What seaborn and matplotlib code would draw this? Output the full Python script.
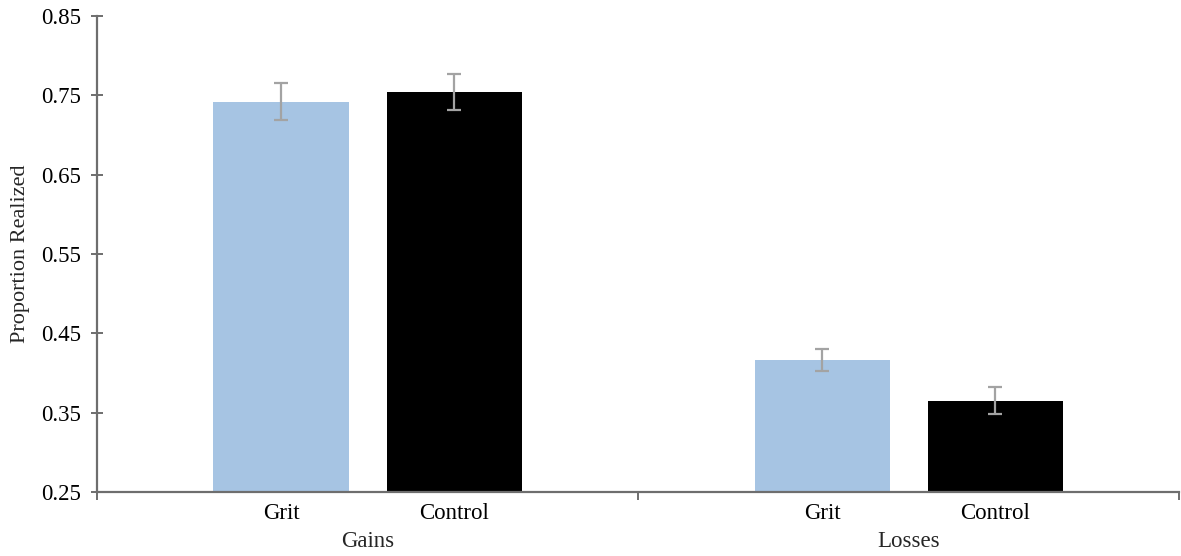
import matplotlib
matplotlib.use("Agg")
import matplotlib.pyplot as plt
import matplotlib.transforms as mtransforms
import seaborn as sns
import pandas as pd

# ------------------------------------------------------------------
# Data
# ------------------------------------------------------------------

groups = ["Gains", "Gains", "Losses", "Losses"]
conditions = ["Grit", "Control", "Grit", "Control"]
proportions = [0.742, 0.754, 0.416, 0.365]
errors = [0.023, 0.023, 0.014, 0.017]

group_order = ["Gains", "Losses"]
condition_order = ["Grit", "Control"]
y_ticks = [0.25, 0.35, 0.45, 0.55, 0.65, 0.75, 0.85]

df = pd.DataFrame({
    "group": groups,
    "condition": conditions,
    "proportion": proportions,
    "error": errors,
})

# ------------------------------------------------------------------
# Style
# ------------------------------------------------------------------

sns.set_theme(style="white")
plt.rcParams["font.family"] = ["Liberation Serif", "DejaVu Serif"]

axis_grey = "#6e6e6e"
font_size = 16.5

fig = plt.figure(figsize=(11.81, 5.56), dpi=100)
ax = fig.add_axes([0.0821, 0.1151, 0.9165, 0.8561])

sns.barplot(
    data=df,
    x="group",
    y="proportion",
    hue="condition",
    order=group_order,
    hue_order=condition_order,
    palette={"Grit": "#a6c4e3", "Control": "#000000"},
    saturation=1,
    width=0.64,
    gap=0.22,
    errorbar=None,
    legend=False,
    linewidth=0,
    ax=ax
)

# error bars at bar centres
centers = []
labels = []
for container, cond in zip(ax.containers, condition_order):
    sub = df[df["condition"] == cond].set_index("group").loc[group_order]
    for bar, (_, row) in zip(container, sub.iterrows()):
        cx = bar.get_x() + bar.get_width() / 2
        centers.append(cx)
        labels.append(cond)
        ax.errorbar(
            cx, row["proportion"], yerr=row["error"],
            fmt="none", ecolor="#a3a3a3", elinewidth=1.6,
            capsize=5, capthick=1.6, zorder=3
        )

# ------------------------------------------------------------------
# Axes
# ------------------------------------------------------------------

ax.set_xlim(-0.5, 1.5)
ax.set_ylim(0.25, 0.85)
ax.set_yticks(y_ticks)
ax.set_yticklabels([f"{t:.2f}" for t in y_ticks])

ax.set_xticks(centers)
ax.set_xticklabels(labels)
ax.set_xticks([-0.5, 0.5, 1.5], minor=True)

ax.tick_params(axis="x", which="major", length=0, labelsize=font_size,
               pad=8, labelcolor="black")
ax.tick_params(axis="x", which="minor", length=6, width=1.4,
               color=axis_grey, direction="out", bottom=True)
ax.tick_params(axis="y", which="major", length=9, width=1.4,
               color=axis_grey, direction="inout", left=True,
               labelsize=font_size, pad=7, labelcolor="black")

for side in ["top", "right"]:
    ax.spines[side].set_visible(False)
for side in ["left", "bottom"]:
    ax.spines[side].set_color(axis_grey)
    ax.spines[side].set_linewidth(1.6)

ax.set_xlabel("")
ax.set_ylabel("Proportion Realized", fontsize=font_size - 0.5, labelpad=8)

# group labels
trans = mtransforms.blended_transform_factory(ax.transData, ax.transAxes)
for i, g in enumerate(group_order):
    ax.text(i, -0.103, g, transform=trans, ha="center", va="center",
            fontsize=font_size)

fig.savefig("out.png", dpi=100)
